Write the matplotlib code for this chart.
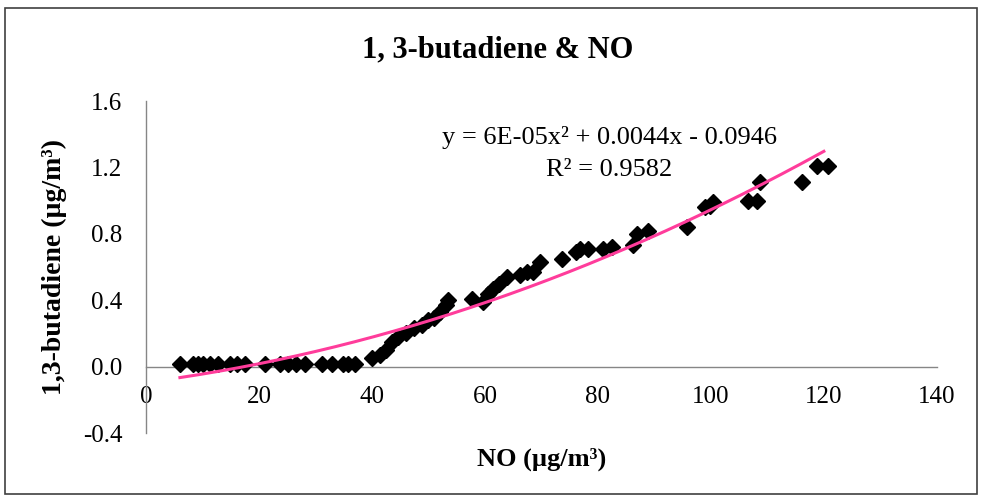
import numpy as np
import matplotlib
matplotlib.use("Agg")
import matplotlib.pyplot as plt
from matplotlib.patches import Rectangle

plt.rcParams['font.family'] = ['Liberation Serif', 'DejaVu Serif']

# NO (ug/m3) and 1,3-butadiene (ug/m3)
no_vals = [6.0, 8.3, 9.2, 10.1, 11.3, 12.7, 14.9, 16.1, 17.5, 21.1, 23.7, 25.1,
           26.5, 28.1, 31.2, 32.9, 34.9, 35.8, 37.0,
           40.0, 41.4, 42.5, 43.5, 44.6, 46.0, 47.4, 48.8, 49.9, 51.0, 52.0, 53.1, 53.5,
           57.7, 59.6, 60.5, 61.4, 62.5, 63.9, 66.2, 67.4, 68.5, 69.7,
           73.6, 76.1, 76.8, 78.2, 80.9, 82.5, 86.2, 86.9, 88.8,
           95.7, 99.0, 99.8, 100.4, 106.5, 108.1, 108.7, 116.1, 118.8, 120.7]
bd_vals = [0.015, 0.015, 0.015, 0.015, 0.015, 0.015, 0.015, 0.015, 0.015, 0.015, 0.015, 0.015,
           0.015, 0.015, 0.015, 0.015, 0.015, 0.015, 0.015,
           0.05, 0.07, 0.10, 0.15, 0.18, 0.20, 0.23, 0.25, 0.28, 0.29, 0.33, 0.37, 0.40,
           0.41, 0.39, 0.44, 0.47, 0.50, 0.54, 0.55, 0.57, 0.57, 0.63,
           0.65, 0.69, 0.71, 0.71, 0.71, 0.72, 0.73, 0.80, 0.82,
           0.84, 0.96, 0.97, 0.99, 1.00, 1.00, 1.11, 1.11, 1.21, 1.21]

# polynomial trendline as printed on the chart
coef = [6e-05, 0.0044, -0.0946]
fit_range = (6.0, 120.0)

fig = plt.figure(figsize=(9.82, 4.98), dpi=100)
fig.patches.append(Rectangle((0.005, 0.008), 0.99, 0.976, transform=fig.transFigure,
                             fill=False, edgecolor='#404040', linewidth=1.2))
ax = fig.add_axes([0.1487, 0.1305, 0.8053, 0.6665])

ax.plot(no_vals, bd_vals, linestyle='none', marker='D', markersize=8.3,
        color='black', zorder=3)
xf = np.linspace(fit_range[0], fit_range[1], 200)
ax.plot(xf, np.polyval(coef, xf), color='#FF3C9B', linewidth=2.2, zorder=4)

ax.set_xlim(0, 140)
ax.set_ylim(-0.4, 1.6)
ax.set_xticks(np.arange(0, 141, 20))
ax.set_yticks(np.arange(-0.4, 1.61, 0.4))
ax.set_yticklabels([f'{v:.1f}' for v in np.arange(-0.4, 1.61, 0.4)])
for s in ['top', 'right']:
    ax.spines[s].set_visible(False)
ax.spines['bottom'].set_position(('data', 0))
for s in ['left', 'bottom']:
    ax.spines[s].set_color('#868686')
    ax.spines[s].set_linewidth(1.0)
ax.tick_params(length=0, labelsize=18)
ax.tick_params(axis='y', pad=17)
ax.tick_params(axis='x', pad=14)

ax.set_xlabel('NO (µg/m³)', fontsize=19, fontweight='bold')
ax.xaxis.set_label_coords(0.5, -0.045)
ax.set_ylabel('1,3-butadiene (µg/m³)', fontsize=20, fontweight='bold')
ax.yaxis.set_label_coords(-0.1, 0.5)

fig.text(0.507, 0.9, '1, 3-butadiene & NO', ha='center', va='center',
         fontsize=22, fontweight='bold')
ax.text(0.586, 0.889, 'y = 6E-05x² + 0.0044x - 0.0946', transform=ax.transAxes,
        ha='center', va='center', fontsize=19)
ax.text(0.586, 0.792, 'R² = 0.9582', transform=ax.transAxes,
        ha='center', va='center', fontsize=19)

fig.savefig('out.png', dpi=100)
